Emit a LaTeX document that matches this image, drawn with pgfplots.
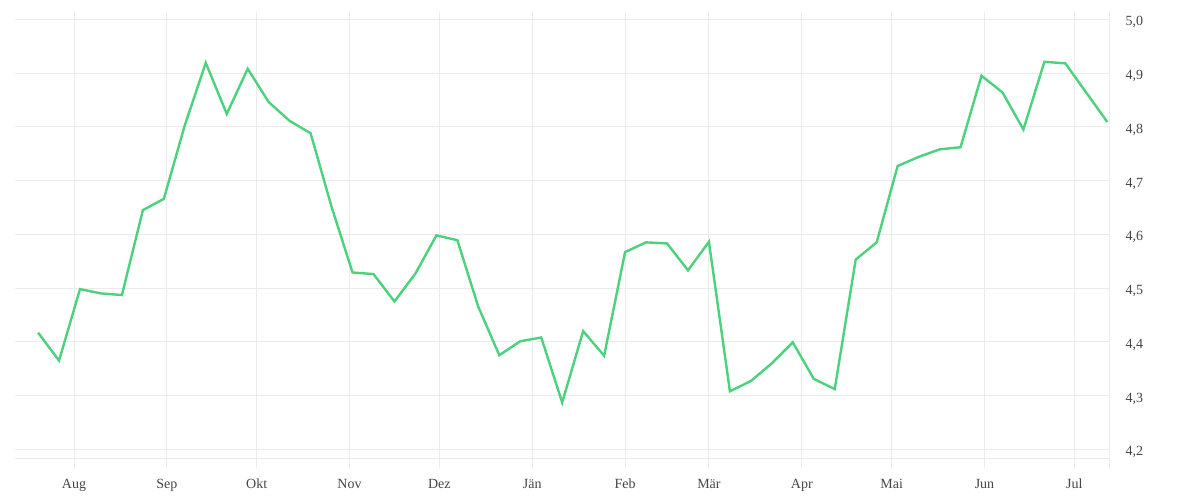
\documentclass[border=0pt]{standalone}
\usepackage{fontspec}
\setmainfont{Liberation Serif}
\usepackage{pgfplots}
\usepackage{pgfplotstable}
\pgfplotsset{compat=1.18}

\definecolor{linegreen}{RGB}{76,210,125}
\definecolor{gridgray}{RGB}{235,235,235}
\definecolor{labelgray}{RGB}{70,70,70}

% weekly values, x = days after 1 Aug
\pgfplotstableread{
day value
-12 4.417
-5 4.365
2 4.498
9 4.490
16 4.487
23 4.645
30 4.666
37 4.803
44 4.919
51 4.824
58 4.908
65 4.846
72 4.811
79 4.788
86 4.651
93 4.529
100 4.526
107 4.475
114 4.527
121 4.598
128 4.589
135 4.465
142 4.375
149 4.401
156 4.408
163 4.287
170 4.420
177 4.374
184 4.567
191 4.585
198 4.583
205 4.533
212 4.586
219 4.308
226 4.327
233 4.360
240 4.399
247 4.331
254 4.312
261 4.553
268 4.585
275 4.727
282 4.744
289 4.758
296 4.762
303 4.895
310 4.864
317 4.795
324 4.921
331 4.918
345 4.809
}\rates

\begin{document}
\begin{tikzpicture}
\useasboundingbox (0,0) rectangle (1200pt,500pt);
\begin{axis}[
    at={(15pt,32pt)}, anchor=south west,
    scale only axis,
    width=1095pt, height=456pt,
    xmin=-19.7, xmax=345.9,
    ymin=4.1652, ymax=5.0136,
    axis line style={draw=none},
    major tick length=0pt,
    tick style={draw=none},
    grid=major,
    major grid style={draw=gridgray, line width=1pt},
    xtick={0,31,61,92,122,153,184,212,243,273,304,334},
    xticklabels={Aug,Sep,Okt,Nov,Dez,Jän,Feb,Mär,Apr,Mai,Jun,Jul},
    ytick={4.2,4.3,4.4,4.5,4.6,4.7,4.8,4.9,5.0},
    extra y ticks={4.183},
    extra y tick labels={},
    yticklabel pos=right,
    tick label style={font=\fontsize{14}{16}\selectfont, text=labelgray},
    xticklabel style={anchor=base, yshift=-21pt},
    yticklabel style={anchor=west, xshift=12pt, yshift=-3pt},
    /pgf/number format/.cd, use comma, fixed, fixed zerofill, precision=1,
    assume math mode=true,
]
\draw[gridgray, line width=1pt] (rel axis cs:1,0) -- (rel axis cs:1,1);
\addplot[linegreen, line width=2.4pt, line join=miter, mark=none] table[x=day, y=value] {\rates};
\end{axis}
\end{tikzpicture}
\end{document}
